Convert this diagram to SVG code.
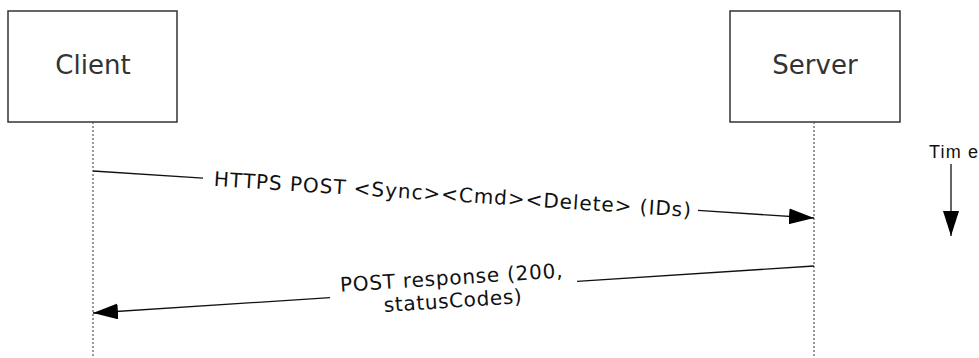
<svg xmlns="http://www.w3.org/2000/svg" width="979" height="358" viewBox="0 0 979 358">
  <style>
    .box { fill: #ffffff; stroke: #333333; stroke-width: 1.5; }
    .life { stroke: #555555; stroke-width: 1.2; stroke-dasharray: 2 2; fill: none; }
    .msg { stroke: #111111; stroke-width: 1.3; fill: none; }
    .node-label { font-family: "DejaVu Sans", Verdana, sans-serif; font-size: 26px; fill: #333333; text-anchor: middle; }
    .msg-label { font-family: "DejaVu Sans", Verdana, sans-serif; font-size: 20px; fill: #111111; text-anchor: middle; }
    .time-label { font-family: "Liberation Sans", Arial, sans-serif; font-size: 18px; fill: #111111; }
  </style>
  <defs>
    <marker id="arrow" markerUnits="userSpaceOnUse" markerWidth="26" markerHeight="18" refX="25" refY="8" orient="auto">
      <path d="M0,0 L25,8 L0,16 Z" fill="#000000"/>
    </marker>
  </defs>
  <rect width="979" height="358" fill="#ffffff"/>

  <g id="client">
    <rect class="box" x="8" y="11" width="169" height="111"/>
    <text class="node-label" x="93" y="74">Client</text>
    <line class="life" x1="93" y1="122" x2="93" y2="358"/>
  </g>

  <g id="server">
    <rect class="box" x="730" y="11" width="170" height="111"/>
    <text class="node-label" x="815" y="74">Server</text>
    <line class="life" x1="814" y1="122" x2="814" y2="358"/>
  </g>

  <g id="time">
    <text class="time-label" x="929" y="158" textLength="49" lengthAdjust="spacing">Tim e</text>
    <line class="msg" x1="951" y1="164" x2="951" y2="236" marker-end="url(#arrow)"/>
  </g>

  <g id="connectors">
    <line class="msg" x1="93" y1="171" x2="203" y2="178.2"/>
    <line class="msg" x1="698" y1="210.4" x2="814" y2="218" marker-end="url(#arrow)"/>
    <text class="msg-label" transform="translate(452.5,194.4) rotate(3.73)" x="0" y="7" textLength="478" lengthAdjust="spacing">HTTPS POST &lt;Sync&gt;&lt;Cmd&gt;&lt;Delete&gt; (IDs)</text>

    <line class="msg" x1="814" y1="266" x2="577" y2="281.4"/>
    <line class="msg" x1="330" y1="297.6" x2="93" y2="313" marker-end="url(#arrow)"/>
    <g transform="translate(452,289.6) rotate(-3.73)">
      <text class="msg-label" x="0" y="-5" textLength="223" lengthAdjust="spacing">POST response (200,</text>
      <text class="msg-label" x="0" y="18" textLength="138" lengthAdjust="spacing">statusCodes)</text>
    </g>
  </g>
</svg>
